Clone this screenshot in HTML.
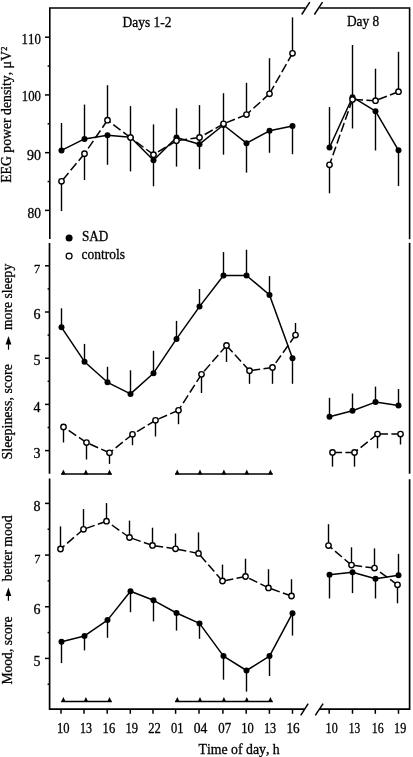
<!DOCTYPE html>
<html><head><meta charset="utf-8"><style>
html,body{margin:0;padding:0;background:#fff;}
svg{display:block;filter:grayscale(1);}
text{font-family:"Liberation Serif",serif;font-kerning:none;fill:#000;}
</style></head><body>
<svg width="413" height="757" viewBox="0 0 413 757" stroke="#000" fill="#000">
<rect width="413" height="757" fill="#fff" stroke="none"/>
<path d="M49.8,239 V8.0 H305 M319.6,8.0 H409.6 V239.2" fill="none" stroke-width="1.6" stroke-linejoin="miter"/>
<line x1="49.5" y1="243" x2="49.5" y2="473.8" stroke-width="1.7" />
<line x1="409.6" y1="242.8" x2="409.6" y2="473.7" stroke-width="1.7" />
<path d="M49.6,478.4 V709.2 H304.8 M319.8,709.2 H409.6 V479.2" fill="none" stroke-width="1.7" stroke-linejoin="miter"/>
<line x1="301.7" y1="14.5" x2="309.8" y2="2.2" stroke-width="1.5" />
<line x1="314.4" y1="14.5" x2="322.5" y2="2.2" stroke-width="1.5" />
<line x1="300.7" y1="715.4" x2="308.2" y2="703.6" stroke-width="1.5" />
<line x1="315.3" y1="715.4" x2="323.1" y2="703.6" stroke-width="1.5" />
<line x1="45" y1="37.2" x2="50" y2="37.2" stroke-width="1.5" />
<line x1="45" y1="94.93" x2="50" y2="94.93" stroke-width="1.5" />
<line x1="45" y1="152.66" x2="50" y2="152.66" stroke-width="1.5" />
<line x1="45" y1="210.39" x2="50" y2="210.39" stroke-width="1.5" />
<line x1="47.6" y1="66.06" x2="50" y2="66.06" stroke-width="1.5" />
<line x1="47.6" y1="123.8" x2="50" y2="123.8" stroke-width="1.5" />
<line x1="47.6" y1="181.52" x2="50" y2="181.52" stroke-width="1.5" />
<line x1="45" y1="265.8" x2="50" y2="265.8" stroke-width="1.5" />
<line x1="45" y1="312.0" x2="50" y2="312.0" stroke-width="1.5" />
<line x1="45" y1="358.2" x2="50" y2="358.2" stroke-width="1.5" />
<line x1="45" y1="404.4" x2="50" y2="404.4" stroke-width="1.5" />
<line x1="45" y1="450.6" x2="50" y2="450.6" stroke-width="1.5" />
<line x1="47.6" y1="288.9" x2="50" y2="288.9" stroke-width="1.5" />
<line x1="47.6" y1="335.1" x2="50" y2="335.1" stroke-width="1.5" />
<line x1="47.6" y1="381.3" x2="50" y2="381.3" stroke-width="1.5" />
<line x1="47.6" y1="427.5" x2="50" y2="427.5" stroke-width="1.5" />
<line x1="45" y1="503.4" x2="50" y2="503.4" stroke-width="1.5" />
<line x1="45" y1="555.07" x2="50" y2="555.07" stroke-width="1.5" />
<line x1="45" y1="606.74" x2="50" y2="606.74" stroke-width="1.5" />
<line x1="45" y1="658.41" x2="50" y2="658.41" stroke-width="1.5" />
<line x1="47.6" y1="529.24" x2="50" y2="529.24" stroke-width="1.5" />
<line x1="47.6" y1="580.9" x2="50" y2="580.9" stroke-width="1.5" />
<line x1="47.6" y1="632.58" x2="50" y2="632.58" stroke-width="1.5" />
<line x1="47.6" y1="684.25" x2="50" y2="684.25" stroke-width="1.5" />
<line x1="61" y1="709" x2="61" y2="713.8" stroke-width="1.5" />
<line x1="84" y1="709" x2="84" y2="713.8" stroke-width="1.5" />
<line x1="107.2" y1="709" x2="107.2" y2="713.8" stroke-width="1.5" />
<line x1="130.3" y1="709" x2="130.3" y2="713.8" stroke-width="1.5" />
<line x1="153" y1="709" x2="153" y2="713.8" stroke-width="1.5" />
<line x1="175.6" y1="709" x2="175.6" y2="713.8" stroke-width="1.5" />
<line x1="199" y1="709" x2="199" y2="713.8" stroke-width="1.5" />
<line x1="222.9" y1="709" x2="222.9" y2="713.8" stroke-width="1.5" />
<line x1="246.2" y1="709" x2="246.2" y2="713.8" stroke-width="1.5" />
<line x1="269.4" y1="709" x2="269.4" y2="713.8" stroke-width="1.5" />
<line x1="292.5" y1="709" x2="292.5" y2="713.8" stroke-width="1.5" />
<line x1="329.2" y1="709" x2="329.2" y2="713.8" stroke-width="1.5" />
<line x1="352.5" y1="709" x2="352.5" y2="713.8" stroke-width="1.5" />
<line x1="375.3" y1="709" x2="375.3" y2="713.8" stroke-width="1.5" />
<line x1="398.5" y1="709" x2="398.5" y2="713.8" stroke-width="1.5" />
<text stroke="#000" stroke-width="0.3" transform="translate(21.60,44.30) scale(0.9180,1)" font-size="14">110</text>
<text stroke="#000" stroke-width="0.3" transform="translate(21.80,101.40) scale(0.9143,1)" font-size="14">100</text>
<text stroke="#000" stroke-width="0.3" transform="translate(27.10,160.10) scale(1.0000,1)" font-size="14">90</text>
<text stroke="#000" stroke-width="0.3" transform="translate(27.60,217.70) scale(0.9643,1)" font-size="14">80</text>
<text stroke="#000" stroke-width="0.3" transform="translate(34.00,273.30) scale(0.9323,1)" font-size="13.3">7</text>
<text stroke="#000" stroke-width="0.3" transform="translate(33.40,319.20) scale(1.0000,1)" font-size="14">6</text>
<text stroke="#000" stroke-width="0.3" transform="translate(33.40,365.40) scale(1.0000,1)" font-size="14">5</text>
<text stroke="#000" stroke-width="0.3" transform="translate(33.40,411.60) scale(1.0000,1)" font-size="14">4</text>
<text stroke="#000" stroke-width="0.3" transform="translate(33.40,457.80) scale(1.0000,1)" font-size="14">3</text>
<text stroke="#000" stroke-width="0.3" transform="translate(33.60,510.60) scale(1.0000,1)" font-size="14">8</text>
<text stroke="#000" stroke-width="0.3" transform="translate(34.20,562.97) scale(0.9323,1)" font-size="13.3">7</text>
<text stroke="#000" stroke-width="0.3" transform="translate(33.60,613.94) scale(1.0000,1)" font-size="14">6</text>
<text stroke="#000" stroke-width="0.3" transform="translate(33.60,665.61) scale(1.0000,1)" font-size="14">5</text>
<text stroke="#000" stroke-width="0.3" transform="translate(56.90,733.10) scale(0.9000,1)" font-size="14">10</text>
<text stroke="#000" stroke-width="0.3" transform="translate(79.90,733.10) scale(0.8571,1)" font-size="14">13</text>
<text stroke="#000" stroke-width="0.3" transform="translate(102.60,733.10) scale(0.9000,1)" font-size="14">16</text>
<text stroke="#000" stroke-width="0.3" transform="translate(125.50,733.10) scale(0.9000,1)" font-size="14">19</text>
<text stroke="#000" stroke-width="0.3" transform="translate(148.20,733.10) scale(0.9000,1)" font-size="14">22</text>
<text stroke="#000" stroke-width="0.3" transform="translate(171.10,733.10) scale(0.8929,1)" font-size="14">01</text>
<text stroke="#000" stroke-width="0.3" transform="translate(193.80,733.10) scale(0.9714,1)" font-size="14">04</text>
<text stroke="#000" stroke-width="0.3" transform="translate(218.20,733.10) scale(0.9214,1)" font-size="14">07</text>
<text stroke="#000" stroke-width="0.3" transform="translate(241.30,733.10) scale(0.8929,1)" font-size="14">10</text>
<text stroke="#000" stroke-width="0.3" transform="translate(264.00,733.10) scale(0.8714,1)" font-size="14">13</text>
<text stroke="#000" stroke-width="0.3" transform="translate(286.40,733.10) scale(0.9429,1)" font-size="14">16</text>
<text stroke="#000" stroke-width="0.3" transform="translate(325.60,733.10) scale(0.8643,1)" font-size="14">10</text>
<text stroke="#000" stroke-width="0.3" transform="translate(348.80,733.10) scale(0.8143,1)" font-size="14">13</text>
<text stroke="#000" stroke-width="0.3" transform="translate(371.80,733.10) scale(0.8500,1)" font-size="14">16</text>
<text stroke="#000" stroke-width="0.3" transform="translate(394.10,733.10) scale(0.8643,1)" font-size="14">19</text>
<text stroke="#000" stroke-width="0.3" transform="translate(198.50,754.40) scale(0.9862,1)" font-size="14">Time of day, h</text>
<text stroke="#000" stroke-width="0.3" transform="translate(122.60,26.50) scale(0.9621,1)" font-size="14">Days 1-2</text>
<text stroke="#000" stroke-width="0.3" transform="translate(346.90,26.40) scale(0.9551,1)" font-size="14">Day 8</text>
<text stroke="#000" stroke-width="0.3" transform="translate(81.90,241.40) scale(0.9598,1)" font-size="13.8">SAD</text>
<circle cx="69.1" cy="238" r="3.5" stroke="none"/>
<circle cx="69.1" cy="256.1" r="2.95" fill="#fff" stroke-width="1.25"/>
<text stroke="#000" stroke-width="0.3" transform="translate(81.50,258.60) scale(0.9784,1)" font-size="13.8">controls</text>
<text stroke="#000" stroke-width="0.3" transform="translate(11.20,182.80) rotate(-90) scale(0.9816,1)" font-size="14">EEG power density, μV</text>
<text stroke="#000" stroke-width="0.3" transform="translate(6.60,50.80) rotate(-90) scale(0.9333,1)" font-size="9">2</text>
<text stroke="#000" stroke-width="0.3" transform="translate(11.60,459.50) rotate(-90) scale(0.9985,1)" font-size="14">Sleepiness, score</text>
<text stroke="#000" stroke-width="0.3" transform="translate(11.60,330.00) rotate(-90) scale(0.9746,1)" font-size="14">more sleepy</text>
<text stroke="#000" stroke-width="0.3" transform="translate(11.70,684.60) rotate(-90) scale(0.9730,1)" font-size="14">Mood, score</text>
<text stroke="#000" stroke-width="0.3" transform="translate(11.70,581.30) rotate(-90) scale(0.9798,1)" font-size="14">better mood</text>
<path d="M8.5,336.1 L11.4,344.6 L5.6,344.6 Z" stroke="none"/>
<line x1="8.5" y1="344.1" x2="8.5" y2="349.7" stroke-width="1.2" />
<path d="M8.4,587.6 L11.3,596.0 L5.5,596.0 Z" stroke="none"/>
<line x1="8.4" y1="595.5" x2="8.4" y2="600.7" stroke-width="1.2" />
<line x1="61.2" y1="474.0" x2="111.7" y2="474.0" stroke-width="1.4" />
<line x1="175.1" y1="474.0" x2="272.7" y2="474.0" stroke-width="1.4" />
<path d="M63.4,469.5 L65.75,474.5 L61.05,474.5 Z" stroke="none"/>
<path d="M85.9,469.5 L88.25,474.5 L83.55000000000001,474.5 Z" stroke="none"/>
<path d="M109.5,469.5 L111.85,474.5 L107.15,474.5 Z" stroke="none"/>
<path d="M177.3,469.5 L179.65,474.5 L174.95000000000002,474.5 Z" stroke="none"/>
<path d="M200.0,469.5 L202.35,474.5 L197.65,474.5 Z" stroke="none"/>
<path d="M223.9,469.5 L226.25,474.5 L221.55,474.5 Z" stroke="none"/>
<path d="M246.8,469.5 L249.15,474.5 L244.45000000000002,474.5 Z" stroke="none"/>
<path d="M270.4,469.5 L272.75,474.5 L268.04999999999995,474.5 Z" stroke="none"/>
<line x1="61.2" y1="701.5" x2="111.7" y2="701.5" stroke-width="1.4" />
<line x1="175.1" y1="701.5" x2="272.7" y2="701.5" stroke-width="1.4" />
<path d="M63.4,697.0 L65.75,702.0 L61.05,702.0 Z" stroke="none"/>
<path d="M85.9,697.0 L88.25,702.0 L83.55000000000001,702.0 Z" stroke="none"/>
<path d="M109.5,697.0 L111.85,702.0 L107.15,702.0 Z" stroke="none"/>
<path d="M177.3,697.0 L179.65,702.0 L174.95000000000002,702.0 Z" stroke="none"/>
<path d="M200.0,697.0 L202.35,702.0 L197.65,702.0 Z" stroke="none"/>
<path d="M223.9,697.0 L226.25,702.0 L221.55,702.0 Z" stroke="none"/>
<path d="M246.8,697.0 L249.15,702.0 L244.45000000000002,702.0 Z" stroke="none"/>
<path d="M270.4,697.0 L272.75,702.0 L268.04999999999995,702.0 Z" stroke="none"/>
<line x1="61.5" y1="123" x2="61.5" y2="150.4" stroke-width="1.4" />
<line x1="61.5" y1="181.3" x2="61.5" y2="211.1" stroke-width="1.4" />
<line x1="84.5" y1="104.6" x2="84.5" y2="138.9" stroke-width="1.4" />
<line x1="84.5" y1="153.7" x2="84.5" y2="180" stroke-width="1.4" />
<line x1="107.5" y1="164.8" x2="107.5" y2="135.2" stroke-width="1.4" />
<line x1="107.5" y1="85.2" x2="107.5" y2="120.2" stroke-width="1.4" />
<line x1="130.5" y1="106.1" x2="130.5" y2="171.4" stroke-width="1.4" />
<line x1="153.5" y1="124.4" x2="153.5" y2="186.3" stroke-width="1.4" />
<line x1="176.5" y1="108.3" x2="176.5" y2="166.6" stroke-width="1.4" />
<line x1="199.5" y1="105.1" x2="199.5" y2="169.2" stroke-width="1.4" />
<line x1="223.5" y1="93.2" x2="223.5" y2="154.7" stroke-width="1.4" />
<line x1="246.5" y1="82.8" x2="246.5" y2="114.6" stroke-width="1.4" />
<line x1="246.5" y1="143.2" x2="246.5" y2="172.6" stroke-width="1.4" />
<line x1="269.5" y1="58.2" x2="269.5" y2="93.8" stroke-width="1.4" />
<line x1="269.5" y1="130.8" x2="269.5" y2="152.8" stroke-width="1.4" />
<line x1="292.5" y1="17.4" x2="292.5" y2="53.3" stroke-width="1.4" />
<line x1="292.5" y1="126" x2="292.5" y2="154.2" stroke-width="1.4" />
<line x1="329.5" y1="107.1" x2="329.5" y2="147.5" stroke-width="1.4" />
<line x1="329.5" y1="164.8" x2="329.5" y2="193.3" stroke-width="1.4" />
<line x1="352.5" y1="45" x2="352.5" y2="128.5" stroke-width="1.4" />
<line x1="375.5" y1="68.7" x2="375.5" y2="100.7" stroke-width="1.4" />
<line x1="375.5" y1="111.2" x2="375.5" y2="150.5" stroke-width="1.4" />
<line x1="398.5" y1="51.8" x2="398.5" y2="91.7" stroke-width="1.4" />
<line x1="398.5" y1="150.3" x2="398.5" y2="186.1" stroke-width="1.4" />
<path d="M84.5,153.7 L61.5,181.3" fill="none" stroke-width="1.5" stroke-dasharray="9.1 3.4"/>
<path d="M107.5,120.2 L84.5,153.7" fill="none" stroke-width="1.5" stroke-dasharray="9.1 3.4"/>
<path d="M130.5,137.6 L107.5,120.2" fill="none" stroke-width="1.5" stroke-dasharray="9.1 3.4"/>
<path d="M153.5,154.7 L130.5,137.6" fill="none" stroke-width="1.5" stroke-dasharray="9.1 3.4"/>
<path d="M176.5,140.8 L153.5,154.7" fill="none" stroke-width="1.5" stroke-dasharray="9.1 3.4"/>
<path d="M199.5,137.5 L176.5,140.8" fill="none" stroke-width="1.5" stroke-dasharray="9.1 3.4"/>
<path d="M223.5,123.8 L199.5,137.5" fill="none" stroke-width="1.5" stroke-dasharray="9.1 3.4"/>
<path d="M246.5,114.6 L223.5,123.8" fill="none" stroke-width="1.5" stroke-dasharray="9.1 3.4"/>
<path d="M269.5,93.8 L246.5,114.6" fill="none" stroke-width="1.5" stroke-dasharray="9.1 3.4"/>
<path d="M292.5,53.3 L269.5,93.8" fill="none" stroke-width="1.5" stroke-dasharray="9.1 3.4"/>
<path d="M352.5,99.5 L329.5,164.8" fill="none" stroke-width="1.5" stroke-dasharray="9.1 3.4"/>
<path d="M375.5,100.7 L352.5,99.5" fill="none" stroke-width="1.5" stroke-dasharray="9.1 3.4"/>
<path d="M398.5,91.7 L375.5,100.7" fill="none" stroke-width="1.5" stroke-dasharray="9.1 3.4"/>
<path d="M61.5,150.4 L84.5,138.9 L107.5,135.2 L130.5,137.2 L153.5,160.3 L176.5,137.5 L199.5,144.2 L223.5,125 L246.5,143.2 L269.5,130.8 L292.5,126" fill="none" stroke-width="1.5" stroke-linejoin="round"/>
<path d="M329.5,147.5 L352.5,97.2 L375.5,111.2 L398.5,150.3" fill="none" stroke-width="1.5" stroke-linejoin="round"/>
<circle cx="61.5" cy="150.4" r="3.0" stroke="none"/>
<circle cx="84.5" cy="138.9" r="3.0" stroke="none"/>
<circle cx="107.5" cy="135.2" r="3.0" stroke="none"/>
<circle cx="130.5" cy="137.2" r="3.0" stroke="none"/>
<circle cx="153.5" cy="160.3" r="3.0" stroke="none"/>
<circle cx="176.5" cy="137.5" r="3.0" stroke="none"/>
<circle cx="199.5" cy="144.2" r="3.0" stroke="none"/>
<circle cx="223.5" cy="125" r="3.0" stroke="none"/>
<circle cx="246.5" cy="143.2" r="3.0" stroke="none"/>
<circle cx="269.5" cy="130.8" r="3.0" stroke="none"/>
<circle cx="292.5" cy="126" r="3.0" stroke="none"/>
<circle cx="329.5" cy="147.5" r="3.0" stroke="none"/>
<circle cx="352.5" cy="97.2" r="3.0" stroke="none"/>
<circle cx="375.5" cy="111.2" r="3.0" stroke="none"/>
<circle cx="398.5" cy="150.3" r="3.0" stroke="none"/>
<circle cx="61.5" cy="181.3" r="2.7" fill="#fff" stroke-width="1.4"/>
<circle cx="84.5" cy="153.7" r="2.7" fill="#fff" stroke-width="1.4"/>
<circle cx="107.5" cy="120.2" r="2.7" fill="#fff" stroke-width="1.4"/>
<circle cx="130.5" cy="137.6" r="2.7" fill="#fff" stroke-width="1.4"/>
<circle cx="153.5" cy="154.7" r="2.7" fill="#fff" stroke-width="1.4"/>
<circle cx="176.5" cy="140.8" r="2.7" fill="#fff" stroke-width="1.4"/>
<circle cx="199.5" cy="137.5" r="2.7" fill="#fff" stroke-width="1.4"/>
<circle cx="223.5" cy="123.8" r="2.7" fill="#fff" stroke-width="1.4"/>
<circle cx="246.5" cy="114.6" r="2.7" fill="#fff" stroke-width="1.4"/>
<circle cx="269.5" cy="93.8" r="2.7" fill="#fff" stroke-width="1.4"/>
<circle cx="292.5" cy="53.3" r="2.7" fill="#fff" stroke-width="1.4"/>
<circle cx="329.5" cy="164.8" r="2.7" fill="#fff" stroke-width="1.4"/>
<circle cx="352.5" cy="99.5" r="2.7" fill="#fff" stroke-width="1.4"/>
<circle cx="375.5" cy="100.7" r="2.7" fill="#fff" stroke-width="1.4"/>
<circle cx="398.5" cy="91.7" r="2.7" fill="#fff" stroke-width="1.4"/>
<line x1="61.5" y1="308.3" x2="61.5" y2="327.3" stroke-width="1.4" />
<line x1="84.5" y1="343.9" x2="84.5" y2="361.7" stroke-width="1.4" />
<line x1="107.5" y1="366.8" x2="107.5" y2="382.3" stroke-width="1.4" />
<line x1="130.5" y1="370.3" x2="130.5" y2="393.9" stroke-width="1.4" />
<line x1="153.5" y1="350.8" x2="153.5" y2="373.2" stroke-width="1.4" />
<line x1="176.5" y1="320.9" x2="176.5" y2="338.9" stroke-width="1.4" />
<line x1="199.5" y1="289" x2="199.5" y2="306.6" stroke-width="1.4" />
<line x1="223.5" y1="252.1" x2="223.5" y2="275.5" stroke-width="1.4" />
<line x1="246.5" y1="249.7" x2="246.5" y2="275.5" stroke-width="1.4" />
<line x1="269.5" y1="276.1" x2="269.5" y2="294.9" stroke-width="1.4" />
<line x1="329.5" y1="397.8" x2="329.5" y2="416.8" stroke-width="1.4" />
<line x1="352.5" y1="393.5" x2="352.5" y2="410.8" stroke-width="1.4" />
<line x1="375.5" y1="386.6" x2="375.5" y2="402.1" stroke-width="1.4" />
<line x1="398.5" y1="389" x2="398.5" y2="405.4" stroke-width="1.4" />
<line x1="63.5" y1="427" x2="63.5" y2="442.5" stroke-width="1.4" />
<line x1="86.5" y1="442.6" x2="86.5" y2="459.5" stroke-width="1.4" />
<line x1="109.5" y1="452.8" x2="109.5" y2="463.9" stroke-width="1.4" />
<line x1="132.5" y1="434.3" x2="132.5" y2="445.2" stroke-width="1.4" />
<line x1="155.5" y1="420.3" x2="155.5" y2="436.5" stroke-width="1.4" />
<line x1="178.5" y1="410.3" x2="178.5" y2="424.2" stroke-width="1.4" />
<line x1="201.5" y1="374.3" x2="201.5" y2="393" stroke-width="1.4" />
<line x1="226.5" y1="345.5" x2="226.5" y2="362" stroke-width="1.4" />
<line x1="249.5" y1="370.7" x2="249.5" y2="383.8" stroke-width="1.4" />
<line x1="272.5" y1="367.4" x2="272.5" y2="383.8" stroke-width="1.4" />
<line x1="332.5" y1="452.4" x2="332.5" y2="466.6" stroke-width="1.4" />
<line x1="354.5" y1="452.4" x2="354.5" y2="466.6" stroke-width="1.4" />
<line x1="377.5" y1="434.1" x2="377.5" y2="448.3" stroke-width="1.4" />
<line x1="400.5" y1="434.1" x2="400.5" y2="444.5" stroke-width="1.4" />
<line x1="292.5" y1="358.2" x2="292.5" y2="383.8" stroke-width="1.4" />
<line x1="295.5" y1="323" x2="295.5" y2="335.1" stroke-width="1.4" />
<path d="M86.5,442.6 L63.5,427" fill="none" stroke-width="1.5" stroke-dasharray="9.1 3.4"/>
<path d="M109.5,452.8 L86.5,442.6" fill="none" stroke-width="1.5" stroke-dasharray="9.1 3.4"/>
<path d="M132.5,434.3 L109.5,452.8" fill="none" stroke-width="1.5" stroke-dasharray="9.1 3.4"/>
<path d="M155.5,420.3 L132.5,434.3" fill="none" stroke-width="1.5" stroke-dasharray="9.1 3.4"/>
<path d="M178.5,410.3 L155.5,420.3" fill="none" stroke-width="1.5" stroke-dasharray="9.1 3.4"/>
<path d="M201.5,374.3 L178.5,410.3" fill="none" stroke-width="1.5" stroke-dasharray="9.1 3.4"/>
<path d="M226.5,345.5 L201.5,374.3" fill="none" stroke-width="1.5" stroke-dasharray="9.1 3.4"/>
<path d="M249.5,370.7 L226.5,345.5" fill="none" stroke-width="1.5" stroke-dasharray="9.1 3.4"/>
<path d="M272.5,367.4 L249.5,370.7" fill="none" stroke-width="1.5" stroke-dasharray="9.1 3.4"/>
<path d="M295.5,335.1 L272.5,367.4" fill="none" stroke-width="1.5" stroke-dasharray="9.1 3.4"/>
<path d="M354.5,452.4 L332.5,452.4" fill="none" stroke-width="1.5" stroke-dasharray="9.1 3.4"/>
<path d="M377.5,434.1 L354.5,452.4" fill="none" stroke-width="1.5" stroke-dasharray="9.1 3.4"/>
<path d="M400.5,434.1 L377.5,434.1" fill="none" stroke-width="1.5" stroke-dasharray="9.1 3.4"/>
<path d="M61.5,327.3 L84.5,361.7 L107.5,382.3 L130.5,393.9 L153.5,373.2 L176.5,338.9 L199.5,306.6 L223.5,275.5 L246.5,275.5 L269.5,294.9 L292.5,358.2" fill="none" stroke-width="1.5" stroke-linejoin="round"/>
<path d="M329.5,416.8 L352.5,410.8 L375.5,402.1 L398.5,405.4" fill="none" stroke-width="1.5" stroke-linejoin="round"/>
<circle cx="61.5" cy="327.3" r="3.0" stroke="none"/>
<circle cx="84.5" cy="361.7" r="3.0" stroke="none"/>
<circle cx="107.5" cy="382.3" r="3.0" stroke="none"/>
<circle cx="130.5" cy="393.9" r="3.0" stroke="none"/>
<circle cx="153.5" cy="373.2" r="3.0" stroke="none"/>
<circle cx="176.5" cy="338.9" r="3.0" stroke="none"/>
<circle cx="199.5" cy="306.6" r="3.0" stroke="none"/>
<circle cx="223.5" cy="275.5" r="3.0" stroke="none"/>
<circle cx="246.5" cy="275.5" r="3.0" stroke="none"/>
<circle cx="269.5" cy="294.9" r="3.0" stroke="none"/>
<circle cx="292.5" cy="358.2" r="3.0" stroke="none"/>
<circle cx="329.5" cy="416.8" r="3.0" stroke="none"/>
<circle cx="352.5" cy="410.8" r="3.0" stroke="none"/>
<circle cx="375.5" cy="402.1" r="3.0" stroke="none"/>
<circle cx="398.5" cy="405.4" r="3.0" stroke="none"/>
<circle cx="63.5" cy="427" r="2.7" fill="#fff" stroke-width="1.4"/>
<circle cx="86.5" cy="442.6" r="2.7" fill="#fff" stroke-width="1.4"/>
<circle cx="109.5" cy="452.8" r="2.7" fill="#fff" stroke-width="1.4"/>
<circle cx="132.5" cy="434.3" r="2.7" fill="#fff" stroke-width="1.4"/>
<circle cx="155.5" cy="420.3" r="2.7" fill="#fff" stroke-width="1.4"/>
<circle cx="178.5" cy="410.3" r="2.7" fill="#fff" stroke-width="1.4"/>
<circle cx="201.5" cy="374.3" r="2.7" fill="#fff" stroke-width="1.4"/>
<circle cx="226.5" cy="345.5" r="2.7" fill="#fff" stroke-width="1.4"/>
<circle cx="249.5" cy="370.7" r="2.7" fill="#fff" stroke-width="1.4"/>
<circle cx="272.5" cy="367.4" r="2.7" fill="#fff" stroke-width="1.4"/>
<circle cx="295.5" cy="335.1" r="2.7" fill="#fff" stroke-width="1.4"/>
<circle cx="332.5" cy="452.4" r="2.7" fill="#fff" stroke-width="1.4"/>
<circle cx="354.5" cy="452.4" r="2.7" fill="#fff" stroke-width="1.4"/>
<circle cx="377.5" cy="434.1" r="2.7" fill="#fff" stroke-width="1.4"/>
<circle cx="400.5" cy="434.1" r="2.7" fill="#fff" stroke-width="1.4"/>
<line x1="60.5" y1="526.4" x2="60.5" y2="549" stroke-width="1.4" />
<line x1="83.5" y1="509.1" x2="83.5" y2="529.3" stroke-width="1.4" />
<line x1="106.5" y1="503.1" x2="106.5" y2="521.2" stroke-width="1.4" />
<line x1="129.5" y1="520.6" x2="129.5" y2="537.5" stroke-width="1.4" />
<line x1="152.5" y1="527.7" x2="152.5" y2="545.4" stroke-width="1.4" />
<line x1="175.5" y1="533.5" x2="175.5" y2="548.8" stroke-width="1.4" />
<line x1="198.5" y1="532.4" x2="198.5" y2="553.4" stroke-width="1.4" />
<line x1="222.5" y1="564.6" x2="222.5" y2="581" stroke-width="1.4" />
<line x1="245.5" y1="558.7" x2="245.5" y2="576.5" stroke-width="1.4" />
<line x1="268.5" y1="569.2" x2="268.5" y2="587.9" stroke-width="1.4" />
<line x1="291.5" y1="579.2" x2="291.5" y2="596" stroke-width="1.4" />
<line x1="328.5" y1="524.2" x2="328.5" y2="545.6" stroke-width="1.4" />
<line x1="351.5" y1="547.3" x2="351.5" y2="565.1" stroke-width="1.4" />
<line x1="374.5" y1="548.4" x2="374.5" y2="568.1" stroke-width="1.4" />
<line x1="61.5" y1="641.7" x2="61.5" y2="663.1" stroke-width="1.4" />
<line x1="84.5" y1="635.9" x2="84.5" y2="650.4" stroke-width="1.4" />
<line x1="107.5" y1="620.1" x2="107.5" y2="637.8" stroke-width="1.4" />
<line x1="130.5" y1="591.2" x2="130.5" y2="612.2" stroke-width="1.4" />
<line x1="153.5" y1="600.3" x2="153.5" y2="621.4" stroke-width="1.4" />
<line x1="176.5" y1="613" x2="176.5" y2="630.6" stroke-width="1.4" />
<line x1="199.5" y1="623.4" x2="199.5" y2="638.8" stroke-width="1.4" />
<line x1="223.5" y1="656.1" x2="223.5" y2="679.7" stroke-width="1.4" />
<line x1="246.5" y1="670.5" x2="246.5" y2="691.6" stroke-width="1.4" />
<line x1="269.5" y1="656.1" x2="269.5" y2="676" stroke-width="1.4" />
<line x1="292.5" y1="613.2" x2="292.5" y2="635.6" stroke-width="1.4" />
<line x1="329.5" y1="574.8" x2="329.5" y2="598.5" stroke-width="1.4" />
<line x1="352.5" y1="572.2" x2="352.5" y2="593.1" stroke-width="1.4" />
<line x1="375.5" y1="578.8" x2="375.5" y2="598.5" stroke-width="1.4" />
<line x1="397.5" y1="584.8" x2="397.5" y2="603.3" stroke-width="1.4" />
<line x1="398.5" y1="553.9" x2="398.5" y2="575.3" stroke-width="1.4" />
<path d="M83.5,529.3 L60.5,549" fill="none" stroke-width="1.5" stroke-dasharray="9.1 3.4"/>
<path d="M106.5,521.2 L83.5,529.3" fill="none" stroke-width="1.5" stroke-dasharray="9.1 3.4"/>
<path d="M129.5,537.5 L106.5,521.2" fill="none" stroke-width="1.5" stroke-dasharray="9.1 3.4"/>
<path d="M152.5,545.4 L129.5,537.5" fill="none" stroke-width="1.5" stroke-dasharray="9.1 3.4"/>
<path d="M175.5,548.8 L152.5,545.4" fill="none" stroke-width="1.5" stroke-dasharray="9.1 3.4"/>
<path d="M198.5,553.4 L175.5,548.8" fill="none" stroke-width="1.5" stroke-dasharray="9.1 3.4"/>
<path d="M222.5,581 L198.5,553.4" fill="none" stroke-width="1.5" stroke-dasharray="9.1 3.4"/>
<path d="M245.5,576.5 L222.5,581" fill="none" stroke-width="1.5" stroke-dasharray="9.1 3.4"/>
<path d="M268.5,587.9 L245.5,576.5" fill="none" stroke-width="1.5" stroke-dasharray="9.1 3.4"/>
<path d="M291.5,596 L268.5,587.9" fill="none" stroke-width="1.5" stroke-dasharray="9.1 3.4"/>
<path d="M351.5,565.1 L328.5,545.6" fill="none" stroke-width="1.5" stroke-dasharray="9.1 3.4"/>
<path d="M374.5,568.1 L351.5,565.1" fill="none" stroke-width="1.5" stroke-dasharray="9.1 3.4"/>
<path d="M397.5,584.8 L374.5,568.1" fill="none" stroke-width="1.5" stroke-dasharray="9.1 3.4"/>
<path d="M61.5,641.7 L84.5,635.9 L107.5,620.1 L130.5,591.2 L153.5,600.3 L176.5,613 L199.5,623.4 L223.5,656.1 L246.5,670.5 L269.5,656.1 L292.5,613.2" fill="none" stroke-width="1.5" stroke-linejoin="round"/>
<path d="M329.5,574.8 L352.5,572.2 L375.5,578.8 L398.5,575.3" fill="none" stroke-width="1.5" stroke-linejoin="round"/>
<circle cx="61.5" cy="641.7" r="3.0" stroke="none"/>
<circle cx="84.5" cy="635.9" r="3.0" stroke="none"/>
<circle cx="107.5" cy="620.1" r="3.0" stroke="none"/>
<circle cx="130.5" cy="591.2" r="3.0" stroke="none"/>
<circle cx="153.5" cy="600.3" r="3.0" stroke="none"/>
<circle cx="176.5" cy="613" r="3.0" stroke="none"/>
<circle cx="199.5" cy="623.4" r="3.0" stroke="none"/>
<circle cx="223.5" cy="656.1" r="3.0" stroke="none"/>
<circle cx="246.5" cy="670.5" r="3.0" stroke="none"/>
<circle cx="269.5" cy="656.1" r="3.0" stroke="none"/>
<circle cx="292.5" cy="613.2" r="3.0" stroke="none"/>
<circle cx="329.5" cy="574.8" r="3.0" stroke="none"/>
<circle cx="352.5" cy="572.2" r="3.0" stroke="none"/>
<circle cx="375.5" cy="578.8" r="3.0" stroke="none"/>
<circle cx="398.5" cy="575.3" r="3.0" stroke="none"/>
<circle cx="60.5" cy="549" r="2.7" fill="#fff" stroke-width="1.4"/>
<circle cx="83.5" cy="529.3" r="2.7" fill="#fff" stroke-width="1.4"/>
<circle cx="106.5" cy="521.2" r="2.7" fill="#fff" stroke-width="1.4"/>
<circle cx="129.5" cy="537.5" r="2.7" fill="#fff" stroke-width="1.4"/>
<circle cx="152.5" cy="545.4" r="2.7" fill="#fff" stroke-width="1.4"/>
<circle cx="175.5" cy="548.8" r="2.7" fill="#fff" stroke-width="1.4"/>
<circle cx="198.5" cy="553.4" r="2.7" fill="#fff" stroke-width="1.4"/>
<circle cx="222.5" cy="581" r="2.7" fill="#fff" stroke-width="1.4"/>
<circle cx="245.5" cy="576.5" r="2.7" fill="#fff" stroke-width="1.4"/>
<circle cx="268.5" cy="587.9" r="2.7" fill="#fff" stroke-width="1.4"/>
<circle cx="291.5" cy="596" r="2.7" fill="#fff" stroke-width="1.4"/>
<circle cx="328.5" cy="545.6" r="2.7" fill="#fff" stroke-width="1.4"/>
<circle cx="351.5" cy="565.1" r="2.7" fill="#fff" stroke-width="1.4"/>
<circle cx="374.5" cy="568.1" r="2.7" fill="#fff" stroke-width="1.4"/>
<circle cx="397.5" cy="584.8" r="2.7" fill="#fff" stroke-width="1.4"/>
</svg>
</body></html>
